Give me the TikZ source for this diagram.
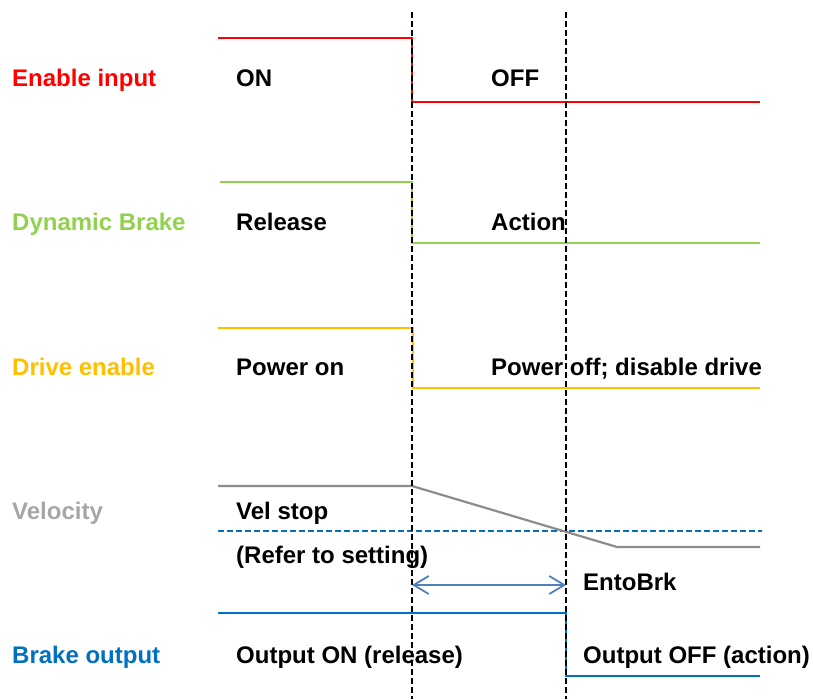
\documentclass[tikz,border=0pt]{standalone}
\usepackage{fontspec}
\setmainfont{Liberation Sans}
\usepackage{xcolor}
\usepackage{tikz}
\usetikzlibrary{arrows.meta}
\definecolor{rojo}{HTML}{FF0000}
\definecolor{verde}{HTML}{92D050}
\definecolor{amarillo}{HTML}{FFC000}
\definecolor{gris}{HTML}{8C8C8C}
\definecolor{grisclaro}{HTML}{A6A6A6}
\definecolor{azul}{HTML}{0070C0}
\definecolor{azulflecha}{HTML}{4F81BD}

\begin{document}
\begin{tikzpicture}[x=1pt,y=-1pt,
  txt/.style={font=\bfseries\fontsize{24}{28}\selectfont, inner sep=0pt, anchor=base west},
  senal/.style={line width=2.2pt},
  guia/.style={black, line width=1.5pt, dash pattern=on 6pt off 3pt}]
\useasboundingbox (0,0) rectangle (813,699);

% Enable input
\draw[senal, rojo] (218,38) -- (412,38) -- (412,102) -- (760,102);
\node[txt, text=rojo] (lenable) at (12,86) {Enable input};
\node[txt] (on) at (236,86) {ON};
\node[txt] (off) at (491,86) {OFF};

% Dynamic Brake
\draw[senal, verde] (220,182) -- (412,182) -- (412,243) -- (760,243);
\node[txt, text=verde] (ldb) at (12,230) {Dynamic Brake};
\node[txt] (release) at (236,230) {Release};
\node[txt] (action) at (491,230) {Action};

% Drive enable
\draw[senal, amarillo] (218,328) -- (413,328) -- (413,388) -- (760,388);
\node[txt, text=amarillo] (ldrive) at (12,375) {Drive enable};
\node[txt] (pon) at (236,375) {Power on};
\node[txt] (poff) at (491,375) {Power off; disable drive};

% Velocity
\draw[azul, line width=1.8pt, dash pattern=on 6pt off 3pt] (218,531) -- (762,531);
\draw[senal, gris] (218,486) -- (412,486) -- (617,547) -- (760,547);
\node[txt, text=grisclaro] (lvel) at (12,519) {Velocity};
\node[txt] (velstop) at (236,519) {Vel stop};
\node[txt] (refer) at (236,563) {(Refer to setting)};

% Brake output
\draw[senal, azul] (218,613) -- (566,613) -- (566,676) -- (760,676);
\node[txt, text=azul] (lbrake) at (12,663) {Brake output};
\node[txt] (oon) at (236,663) {Output ON (release)};
\node[txt] (ooff) at (583,663) {Output OFF (action)};

% Lineas guia
\draw[guia] (412,12) -- (412,699);
\draw[guia] (566,12) -- (566,699);

% EntoBrk
\coordinate (ini) at (412,585);
\coordinate (fin) at (566,585);
\draw[azulflecha, line width=1.8pt,
  {Straight Barb[length=15pt,width=18pt]}-{Straight Barb[length=15pt,width=18pt]}] (ini) -- (fin);
\node[txt] (ento) at (583,590) {EntoBrk};

\end{tikzpicture}
\end{document}
